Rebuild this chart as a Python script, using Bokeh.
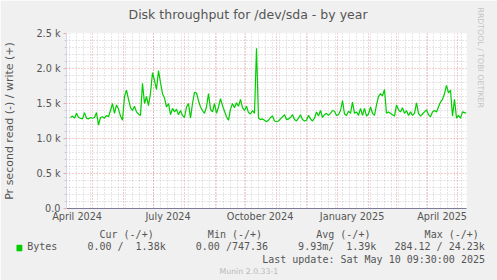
from datetime import datetime, timedelta
from bokeh.plotting import figure
from bokeh.models import Range1d, FixedTicker, Title
from bokeh.embed import file_html
from bokeh.resources import INLINE

# ---------------- data ----------------
graph_start = datetime(2024, 4, 5, 9, 30)      # left edge of the 400-day window
graph_days = 400
first_sample_day = 4
sample_step_days = 2

# bytes written per second (+), 2-day samples
write_bytes = [
    1300, 1320, 1290, 1360, 1300, 1290, 1280, 1370, 1290, 1280,
    1300, 1290, 1300, 1370, 1190, 1300, 1310, 1290, 1330, 1310,
    1400, 1500, 1360, 1480, 1420, 1320, 1260, 1600, 1690, 1560,
    1440, 1400, 1460, 1380, 1350, 1330, 1790, 1500, 1600, 1470,
    1650, 1940, 1830, 1700, 1970, 1800, 1640, 1580, 1450, 1500,
    1340, 1430, 1380, 1420, 1340, 1400, 1330, 1300, 1450, 1500,
    1290, 1500, 1660, 1650, 1540, 1450, 1400, 1360, 1450, 1640,
    1420, 1380, 1500, 1360, 1450, 1570, 1470, 1390, 1310, 1260,
    1420, 1500, 1440, 1510, 1460, 1560, 1440, 1400, 1460, 1370,
    1350, 1400, 1360, 2290, 1290, 1270, 1280, 1260, 1240, 1260,
    1300, 1320, 1250, 1240, 1250, 1280, 1310, 1340, 1270, 1280,
    1300, 1340, 1270, 1250, 1290, 1340, 1270, 1250, 1260, 1330,
    1280, 1250, 1290, 1380, 1320, 1400, 1300, 1340, 1360, 1330,
    1360, 1400, 1390, 1330, 1340, 1400, 1540, 1350, 1330, 1390,
    1360, 1520, 1360, 1380, 1330, 1430, 1330, 1430, 1320, 1350,
    1450, 1360, 1330, 1480, 1600, 1640, 1610, 1700, 1360, 1380,
    1360, 1340, 1320, 1480, 1410, 1380, 1440, 1360, 1400, 1330,
    1380, 1330, 1360, 1510, 1360, 1320, 1350, 1380, 1410, 1340,
    1310, 1380, 1400, 1380, 1450, 1520, 1560, 1640, 1760, 1650,
    1690, 1320, 1560, 1290, 1330, 1290, 1380, 1370, 1360,
]

month_starts = ["2024-05-01", "2024-06-01", "2024-07-01", "2024-08-01",
                "2024-09-01", "2024-10-01", "2024-11-01", "2024-12-01",
                "2025-01-01", "2025-02-01", "2025-03-01", "2025-04-01",
                "2025-05-01"]
first_monday = "2024-04-08"
x_label_dates = ["2024-04-16", "2024-07-16", "2024-10-16", "2025-01-16", "2025-04-16"]
x_tick_labels = ["April 2024", "July 2024", "October 2024", "January 2025", "April 2025"]

y_ticks = [0, 500, 1000, 1500, 2000, 2500]
y_tick_labels = ["0.0", "0.5 k", "1.0 k", "1.5 k", "2.0 k", "2.5 k"]
y_minor_ticks = [v for v in range(100, 2500, 100) if v % 500]

title_text = "Disk throughput for /dev/sda - by year"
y_title = "Pr second read (-) / write (+)"
side_text = "RRDTOOL / TOBI OETIKER"
legend_name = "Bytes"
# (column in characters, text) for the monospaced legend rows
legend_header = [(0, "Cur (-/+)"), (18, "Min (-/+)"), (36, "Avg (-/+)"), (54, "Max (-/+)")]
legend_row = [(0, legend_name), (10, "0.00 /  1.38k"), (28, "0.00 /747.36"),
              (45, "9.93m/  1.39k"), (61, "284.12 / 24.23k")]
last_update = "Last update: Sat May 10 09:30:00 2025"
munin_version = "Munin 2.0.33-1"

# ---------------- helpers ----------------
def day_of(s):
    d = datetime.strptime(s, "%Y-%m-%d")
    return (d - graph_start).total_seconds() / 86400.0

def mono_line(parts):
    s = ""
    for col, txt in parts:
        s += " " * (col - len(s)) + txt
    return s.replace(" ", "\u00a0")

days = [first_sample_day + i * sample_step_days for i in range(len(write_bytes))]
month_days = [day_of(s) for s in month_starts]
week_days = []
wd = datetime.strptime(first_monday, "%Y-%m-%d")
while (wd - graph_start).days < graph_days:
    week_days.append((wd - graph_start).total_seconds() / 86400.0)
    wd += timedelta(days=7)
label_days = [day_of(s) for s in x_label_dates]

FONT = "DejaVu Sans"
MONO = "DejaVu Sans Mono"
TXT = "#555555"
BG = "#f0f0f0"
GREEN = "#00cc00"

# ---------------- main chart ----------------
W, H = 497, 280
FL, FR, FT, FB = 66, 31, 33, 72
p = figure(width=W, height=H, output_backend="svg", toolbar_location=None,
           x_range=Range1d(0, graph_days), y_range=Range1d(0, 2500),
           min_border_left=FL, min_border_right=FR, min_border_top=FT,
           min_border_bottom=FB)
p.background_fill_color = "#ffffff"
p.border_fill_color = BG
p.outline_line_color = None

# main title (outer slot) and an empty spacer slot between it and the frame
p.title.text = title_text
p.title.align = "left"
p.title.offset = 128 - FL
p.title.vertical_align = "bottom"
p.title.text_font = FONT
p.title.text_font_size = "12.5px"
p.title.text_font_style = "normal"
p.title.text_color = TXT
p.title.standoff = 0
p.add_layout(Title(text="\u00a0", text_font_size="1px", standoff=8.5), "above")

p.add_layout(Title(text=side_text, align="left", text_font=FONT,
                   text_font_size="7.8px", text_font_style="normal",
                   text_color="#c4c4c4", offset=-26, standoff=19), "right")

# grids
p.xgrid.ticker = FixedTicker(ticks=month_days, minor_ticks=week_days)
p.ygrid.ticker = FixedTicker(ticks=y_ticks, minor_ticks=y_minor_ticks)
for g in (p.xgrid[0], p.ygrid[0]):
    g.grid_line_color = "#e04848"
    g.grid_line_alpha = 0.55
    g.grid_line_dash = "1 2"
    g.minor_grid_line_color = "#8f8f8f"
    g.minor_grid_line_alpha = 0.45
    g.minor_grid_line_dash = "1 2"

# x axis
xa = p.xaxis[0]
xa.ticker = FixedTicker(ticks=label_days)
xa.major_label_overrides = {d: t for d, t in zip(label_days, x_tick_labels)}
xa.major_tick_line_color = None
xa.minor_tick_line_color = None
xa.major_tick_out = 0
xa.minor_tick_out = 0
xa.axis_line_color = "#7c7c98"
xa.major_label_text_font = FONT
xa.major_label_text_font_size = "9.7px"
xa.major_label_text_color = TXT
xa.major_label_standoff = 2

# y axis
ya = p.yaxis[0]
ya.ticker = FixedTicker(ticks=y_ticks, minor_ticks=y_minor_ticks)
ya.major_label_overrides = {v: t for v, t in zip(y_ticks, y_tick_labels)}
ya.axis_line_color = "#cfd6f8"
ya.major_tick_line_color = "#f0a8a8"
ya.major_tick_out = 3
ya.major_tick_in = 0
ya.minor_tick_line_color = "#cccccc"
ya.minor_tick_out = 2
ya.minor_tick_in = 0
ya.major_label_text_font = FONT
ya.major_label_text_font_size = "9.7px"
ya.major_label_text_color = TXT
ya.major_label_standoff = 3
ya.axis_label = y_title
ya.axis_label_text_font = FONT
ya.axis_label_text_font_size = "11px"
ya.axis_label_text_font_style = "normal"
ya.axis_label_text_color = TXT
ya.axis_label_standoff = 17

# data line
p.line(days, write_bytes, line_color=GREEN, line_width=1.2)

# ---------------- rrdtool-style legend below the chart (stacked titles) ----------------
def below(text, X, size, standoff, font=MONO, color=TXT, **kw):
    t = Title(text=text, align="left", offset=X - FL, text_font=font,
              text_font_size=size, text_font_style="normal", text_color=color,
              standoff=standoff, **kw)
    p.add_layout(t, "below")

below(mono_line(legend_header), 99, "10px", 5)
below(mono_line(legend_row), 26.7, "10px", -8.4)
# green legend swatch: a blank title drawn as a small filled box beside "Bytes"
below("\u00a0", 16, "3px", -5.4, vertical_align="top",
      background_fill_color=GREEN, background_fill_alpha=1.0, padding=(2, 2, 1, 2))
below(last_update.replace(" ", "\u00a0"), 261.7, "10px", 4.2)
below(munin_version, 219, "7.8px", -4.9, font=FONT, color="#b8b8b8")

open("out.html", "w").write(file_html(p, INLINE))
